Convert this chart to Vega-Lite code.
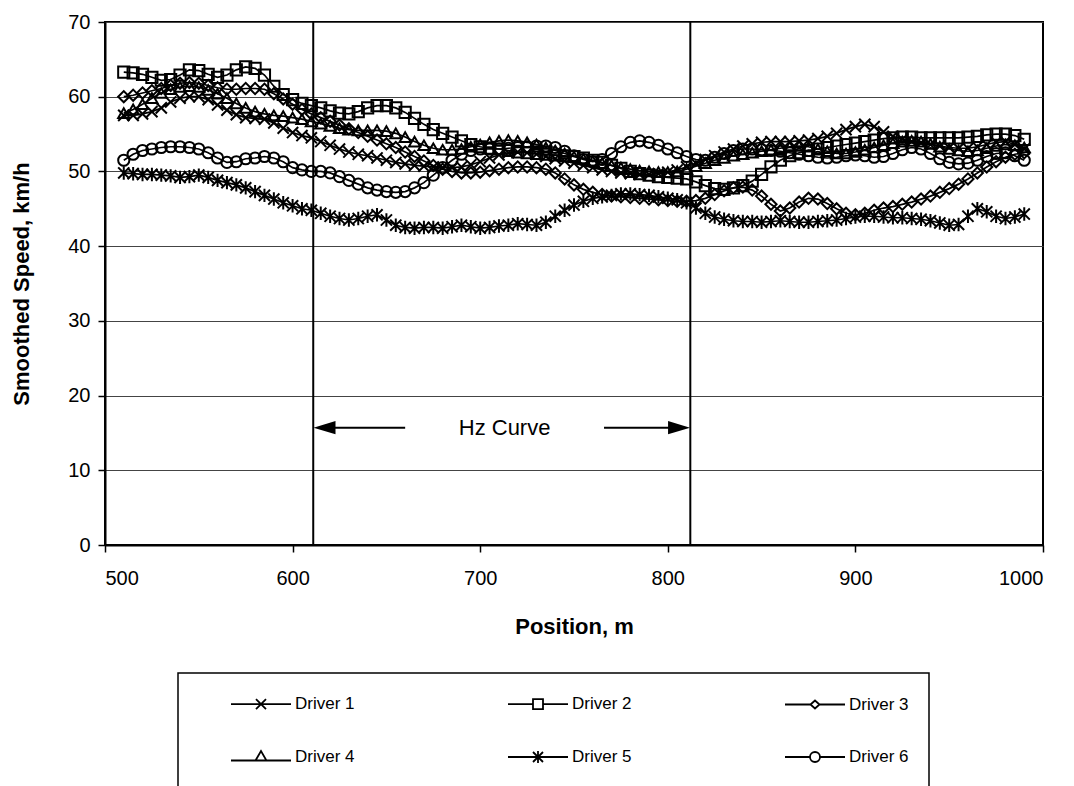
{
"$schema":"https://vega.github.io/schema/vega-lite/v6.json",
"width":938,"height":523,"autosize":"none",
"padding":{"left":105,"top":22,"right":31,"bottom":241},
"background":"white",
"datasets":{
"speeds":[
{"pos":510,"Driver 1":57.5,"Driver 2":63.3,"Driver 3":60.0,"Driver 4":57.8,"Driver 5":49.8,"Driver 6":51.5},
{"pos":515,"Driver 1":57.5,"Driver 2":63.2,"Driver 3":60.2,"Driver 4":58.3,"Driver 5":49.7,"Driver 6":52.3},
{"pos":520,"Driver 1":57.7,"Driver 2":63.0,"Driver 3":60.5,"Driver 4":59.0,"Driver 5":49.6,"Driver 6":52.8},
{"pos":525,"Driver 1":58.0,"Driver 2":62.6,"Driver 3":60.8,"Driver 4":59.8,"Driver 5":49.6,"Driver 6":53.0},
{"pos":530,"Driver 1":58.5,"Driver 2":62.2,"Driver 3":61.1,"Driver 4":60.5,"Driver 5":49.5,"Driver 6":53.2},
{"pos":535,"Driver 1":59.3,"Driver 2":62.3,"Driver 3":61.5,"Driver 4":61.0,"Driver 5":49.4,"Driver 6":53.3},
{"pos":540,"Driver 1":59.8,"Driver 2":62.9,"Driver 3":61.8,"Driver 4":61.3,"Driver 5":49.2,"Driver 6":53.3},
{"pos":545,"Driver 1":60.0,"Driver 2":63.6,"Driver 3":61.9,"Driver 4":61.4,"Driver 5":49.3,"Driver 6":53.2},
{"pos":550,"Driver 1":60.0,"Driver 2":63.5,"Driver 3":61.8,"Driver 4":61.3,"Driver 5":49.5,"Driver 6":53.0},
{"pos":555,"Driver 1":59.6,"Driver 2":63.0,"Driver 3":61.5,"Driver 4":60.9,"Driver 5":49.2,"Driver 6":52.5},
{"pos":560,"Driver 1":58.9,"Driver 2":62.6,"Driver 3":61.2,"Driver 4":60.4,"Driver 5":48.8,"Driver 6":51.8},
{"pos":565,"Driver 1":58.2,"Driver 2":62.9,"Driver 3":61.0,"Driver 4":59.8,"Driver 5":48.5,"Driver 6":51.2},
{"pos":570,"Driver 1":57.6,"Driver 2":63.6,"Driver 3":61.0,"Driver 4":59.1,"Driver 5":48.2,"Driver 6":51.3},
{"pos":575,"Driver 1":57.2,"Driver 2":64.0,"Driver 3":61.1,"Driver 4":58.5,"Driver 5":47.8,"Driver 6":51.7},
{"pos":580,"Driver 1":57.1,"Driver 2":63.8,"Driver 3":61.1,"Driver 4":58.0,"Driver 5":47.3,"Driver 6":51.8},
{"pos":585,"Driver 1":57.0,"Driver 2":62.9,"Driver 3":61.0,"Driver 4":57.7,"Driver 5":46.8,"Driver 6":52.0},
{"pos":590,"Driver 1":56.5,"Driver 2":61.4,"Driver 3":60.4,"Driver 4":57.5,"Driver 5":46.3,"Driver 6":51.8},
{"pos":595,"Driver 1":55.8,"Driver 2":60.3,"Driver 3":59.7,"Driver 4":57.4,"Driver 5":45.8,"Driver 6":51.3},
{"pos":600,"Driver 1":55.2,"Driver 2":59.6,"Driver 3":59.0,"Driver 4":57.2,"Driver 5":45.4,"Driver 6":50.5},
{"pos":605,"Driver 1":54.8,"Driver 2":59.1,"Driver 3":58.3,"Driver 4":57.0,"Driver 5":45.0,"Driver 6":50.2},
{"pos":610,"Driver 1":54.5,"Driver 2":58.8,"Driver 3":57.7,"Driver 4":56.7,"Driver 5":44.8,"Driver 6":50.0},
{"pos":615,"Driver 1":54.0,"Driver 2":58.5,"Driver 3":57.2,"Driver 4":56.4,"Driver 5":44.4,"Driver 6":50.0},
{"pos":620,"Driver 1":53.5,"Driver 2":58.1,"Driver 3":56.7,"Driver 4":56.1,"Driver 5":44.0,"Driver 6":49.8},
{"pos":625,"Driver 1":53.0,"Driver 2":57.8,"Driver 3":56.2,"Driver 4":55.8,"Driver 5":43.7,"Driver 6":49.3},
{"pos":630,"Driver 1":52.6,"Driver 2":57.7,"Driver 3":55.7,"Driver 4":55.6,"Driver 5":43.5,"Driver 6":48.8},
{"pos":635,"Driver 1":52.3,"Driver 2":58.0,"Driver 3":55.2,"Driver 4":55.5,"Driver 5":43.7,"Driver 6":48.3},
{"pos":640,"Driver 1":52.1,"Driver 2":58.5,"Driver 3":54.7,"Driver 4":55.5,"Driver 5":44.0,"Driver 6":47.8},
{"pos":645,"Driver 1":51.8,"Driver 2":58.8,"Driver 3":54.2,"Driver 4":55.5,"Driver 5":44.2,"Driver 6":47.5},
{"pos":650,"Driver 1":51.5,"Driver 2":58.8,"Driver 3":53.7,"Driver 4":55.4,"Driver 5":43.5,"Driver 6":47.3},
{"pos":655,"Driver 1":51.2,"Driver 2":58.5,"Driver 3":53.2,"Driver 4":55.1,"Driver 5":42.8,"Driver 6":47.2},
{"pos":660,"Driver 1":51.0,"Driver 2":57.9,"Driver 3":52.6,"Driver 4":54.6,"Driver 5":42.5,"Driver 6":47.3},
{"pos":665,"Driver 1":50.8,"Driver 2":57.1,"Driver 3":52.0,"Driver 4":54.0,"Driver 5":42.4,"Driver 6":47.8},
{"pos":670,"Driver 1":50.7,"Driver 2":56.3,"Driver 3":51.4,"Driver 4":53.5,"Driver 5":42.5,"Driver 6":48.5},
{"pos":675,"Driver 1":50.6,"Driver 2":55.6,"Driver 3":50.8,"Driver 4":53.1,"Driver 5":42.5,"Driver 6":49.5},
{"pos":680,"Driver 1":50.5,"Driver 2":55.1,"Driver 3":50.3,"Driver 4":52.9,"Driver 5":42.4,"Driver 6":50.5},
{"pos":685,"Driver 1":50.5,"Driver 2":54.6,"Driver 3":50.0,"Driver 4":52.9,"Driver 5":42.6,"Driver 6":51.5},
{"pos":690,"Driver 1":50.6,"Driver 2":54.1,"Driver 3":49.8,"Driver 4":53.0,"Driver 5":42.8,"Driver 6":52.3},
{"pos":695,"Driver 1":50.9,"Driver 2":53.6,"Driver 3":49.8,"Driver 4":53.3,"Driver 5":42.6,"Driver 6":52.8},
{"pos":700,"Driver 1":51.3,"Driver 2":53.3,"Driver 3":49.9,"Driver 4":53.6,"Driver 5":42.4,"Driver 6":53.0},
{"pos":705,"Driver 1":51.8,"Driver 2":53.1,"Driver 3":50.1,"Driver 4":53.9,"Driver 5":42.5,"Driver 6":53.0},
{"pos":710,"Driver 1":52.2,"Driver 2":53.0,"Driver 3":50.3,"Driver 4":54.1,"Driver 5":42.7,"Driver 6":53.0},
{"pos":715,"Driver 1":52.5,"Driver 2":52.8,"Driver 3":50.5,"Driver 4":54.2,"Driver 5":42.8,"Driver 6":53.1},
{"pos":720,"Driver 1":52.6,"Driver 2":52.6,"Driver 3":50.6,"Driver 4":54.1,"Driver 5":43.0,"Driver 6":53.2},
{"pos":725,"Driver 1":52.5,"Driver 2":52.5,"Driver 3":50.6,"Driver 4":53.9,"Driver 5":42.9,"Driver 6":53.3},
{"pos":730,"Driver 1":52.3,"Driver 2":52.4,"Driver 3":50.5,"Driver 4":53.6,"Driver 5":42.8,"Driver 6":53.4},
{"pos":735,"Driver 1":52.0,"Driver 2":52.3,"Driver 3":50.3,"Driver 4":53.2,"Driver 5":43.2,"Driver 6":53.4},
{"pos":740,"Driver 1":51.7,"Driver 2":52.2,"Driver 3":49.8,"Driver 4":52.8,"Driver 5":44.0,"Driver 6":53.2},
{"pos":745,"Driver 1":51.4,"Driver 2":52.1,"Driver 3":49.0,"Driver 4":52.4,"Driver 5":44.8,"Driver 6":52.7},
{"pos":750,"Driver 1":51.1,"Driver 2":52.0,"Driver 3":48.2,"Driver 4":52.0,"Driver 5":45.5,"Driver 6":52.1},
{"pos":755,"Driver 1":50.8,"Driver 2":51.8,"Driver 3":47.6,"Driver 4":51.7,"Driver 5":46.0,"Driver 6":51.6},
{"pos":760,"Driver 1":50.5,"Driver 2":51.5,"Driver 3":47.2,"Driver 4":51.4,"Driver 5":46.4,"Driver 6":51.3},
{"pos":765,"Driver 1":50.2,"Driver 2":51.2,"Driver 3":46.9,"Driver 4":51.1,"Driver 5":46.6,"Driver 6":51.6},
{"pos":770,"Driver 1":50.0,"Driver 2":50.8,"Driver 3":46.7,"Driver 4":50.8,"Driver 5":46.8,"Driver 6":52.4},
{"pos":775,"Driver 1":49.8,"Driver 2":50.4,"Driver 3":46.6,"Driver 4":50.5,"Driver 5":47.0,"Driver 6":53.3},
{"pos":780,"Driver 1":49.7,"Driver 2":50.0,"Driver 3":46.5,"Driver 4":50.3,"Driver 5":47.0,"Driver 6":53.9},
{"pos":785,"Driver 1":49.6,"Driver 2":49.7,"Driver 3":46.4,"Driver 4":50.1,"Driver 5":46.9,"Driver 6":54.1},
{"pos":790,"Driver 1":49.6,"Driver 2":49.5,"Driver 3":46.3,"Driver 4":50.0,"Driver 5":46.8,"Driver 6":53.9},
{"pos":795,"Driver 1":49.7,"Driver 2":49.3,"Driver 3":46.2,"Driver 4":49.9,"Driver 5":46.6,"Driver 6":53.5},
{"pos":800,"Driver 1":49.9,"Driver 2":49.2,"Driver 3":46.1,"Driver 4":49.9,"Driver 5":46.4,"Driver 6":53.0},
{"pos":805,"Driver 1":50.2,"Driver 2":49.1,"Driver 3":46.0,"Driver 4":50.0,"Driver 5":46.2,"Driver 6":52.5},
{"pos":810,"Driver 1":50.6,"Driver 2":49.0,"Driver 3":46.0,"Driver 4":50.3,"Driver 5":45.8,"Driver 6":52.0},
{"pos":815,"Driver 1":51.1,"Driver 2":48.6,"Driver 3":46.1,"Driver 4":50.7,"Driver 5":45.1,"Driver 6":51.6},
{"pos":820,"Driver 1":51.6,"Driver 2":48.1,"Driver 3":46.4,"Driver 4":51.1,"Driver 5":44.4,"Driver 6":51.5},
{"pos":825,"Driver 1":52.1,"Driver 2":47.7,"Driver 3":46.9,"Driver 4":51.5,"Driver 5":43.9,"Driver 6":51.9},
{"pos":830,"Driver 1":52.6,"Driver 2":47.6,"Driver 3":47.4,"Driver 4":51.8,"Driver 5":43.6,"Driver 6":52.4},
{"pos":835,"Driver 1":53.0,"Driver 2":47.8,"Driver 3":47.8,"Driver 4":52.1,"Driver 5":43.4,"Driver 6":52.8},
{"pos":840,"Driver 1":53.4,"Driver 2":48.1,"Driver 3":47.9,"Driver 4":52.3,"Driver 5":43.3,"Driver 6":53.0},
{"pos":845,"Driver 1":53.7,"Driver 2":48.7,"Driver 3":47.5,"Driver 4":52.5,"Driver 5":43.3,"Driver 6":53.0},
{"pos":850,"Driver 1":53.9,"Driver 2":49.6,"Driver 3":46.7,"Driver 4":52.7,"Driver 5":43.2,"Driver 6":52.9},
{"pos":855,"Driver 1":54.0,"Driver 2":50.6,"Driver 3":45.6,"Driver 4":52.9,"Driver 5":43.3,"Driver 6":52.8},
{"pos":860,"Driver 1":54.0,"Driver 2":51.5,"Driver 3":44.7,"Driver 4":53.1,"Driver 5":43.4,"Driver 6":52.7},
{"pos":865,"Driver 1":54.0,"Driver 2":52.1,"Driver 3":45.1,"Driver 4":53.3,"Driver 5":43.3,"Driver 6":52.5},
{"pos":870,"Driver 1":54.1,"Driver 2":52.5,"Driver 3":45.9,"Driver 4":53.4,"Driver 5":43.2,"Driver 6":52.3},
{"pos":875,"Driver 1":54.2,"Driver 2":52.8,"Driver 3":46.4,"Driver 4":53.3,"Driver 5":43.2,"Driver 6":52.1},
{"pos":880,"Driver 1":54.4,"Driver 2":53.0,"Driver 3":46.3,"Driver 4":53.0,"Driver 5":43.3,"Driver 6":51.9},
{"pos":885,"Driver 1":54.7,"Driver 2":53.2,"Driver 3":45.7,"Driver 4":52.7,"Driver 5":43.4,"Driver 6":51.8},
{"pos":890,"Driver 1":55.1,"Driver 2":53.4,"Driver 3":45.0,"Driver 4":52.4,"Driver 5":43.5,"Driver 6":51.9},
{"pos":895,"Driver 1":55.6,"Driver 2":53.6,"Driver 3":44.4,"Driver 4":52.4,"Driver 5":43.7,"Driver 6":52.1},
{"pos":900,"Driver 1":56.0,"Driver 2":53.8,"Driver 3":44.2,"Driver 4":52.6,"Driver 5":43.9,"Driver 6":52.2},
{"pos":905,"Driver 1":56.3,"Driver 2":54.0,"Driver 3":44.4,"Driver 4":52.9,"Driver 5":44.0,"Driver 6":52.1},
{"pos":910,"Driver 1":56.0,"Driver 2":54.2,"Driver 3":44.8,"Driver 4":53.2,"Driver 5":44.0,"Driver 6":51.9},
{"pos":915,"Driver 1":55.3,"Driver 2":54.4,"Driver 3":45.1,"Driver 4":53.5,"Driver 5":43.9,"Driver 6":52.0},
{"pos":920,"Driver 1":54.7,"Driver 2":54.5,"Driver 3":45.3,"Driver 4":53.8,"Driver 5":43.8,"Driver 6":52.4},
{"pos":925,"Driver 1":54.3,"Driver 2":54.6,"Driver 3":45.6,"Driver 4":54.0,"Driver 5":43.8,"Driver 6":52.9},
{"pos":930,"Driver 1":54.0,"Driver 2":54.6,"Driver 3":45.9,"Driver 4":54.1,"Driver 5":43.7,"Driver 6":53.2},
{"pos":935,"Driver 1":53.8,"Driver 2":54.5,"Driver 3":46.3,"Driver 4":54.0,"Driver 5":43.6,"Driver 6":53.0},
{"pos":940,"Driver 1":53.6,"Driver 2":54.5,"Driver 3":46.7,"Driver 4":53.7,"Driver 5":43.4,"Driver 6":52.4},
{"pos":945,"Driver 1":53.4,"Driver 2":54.5,"Driver 3":47.2,"Driver 4":53.3,"Driver 5":43.1,"Driver 6":51.7},
{"pos":950,"Driver 1":53.2,"Driver 2":54.5,"Driver 3":47.7,"Driver 4":53.0,"Driver 5":42.8,"Driver 6":51.2},
{"pos":955,"Driver 1":53.1,"Driver 2":54.5,"Driver 3":48.3,"Driver 4":52.8,"Driver 5":42.9,"Driver 6":51.0},
{"pos":960,"Driver 1":53.1,"Driver 2":54.6,"Driver 3":49.0,"Driver 4":52.7,"Driver 5":44.0,"Driver 6":51.1},
{"pos":965,"Driver 1":53.3,"Driver 2":54.7,"Driver 3":49.8,"Driver 4":52.8,"Driver 5":45.0,"Driver 6":51.5},
{"pos":970,"Driver 1":53.6,"Driver 2":54.9,"Driver 3":50.6,"Driver 4":53.1,"Driver 5":44.6,"Driver 6":52.0},
{"pos":975,"Driver 1":53.9,"Driver 2":55.0,"Driver 3":51.3,"Driver 4":53.4,"Driver 5":44.0,"Driver 6":52.4},
{"pos":980,"Driver 1":54.0,"Driver 2":55.0,"Driver 3":51.9,"Driver 4":53.6,"Driver 5":43.7,"Driver 6":52.5},
{"pos":985,"Driver 1":53.6,"Driver 2":54.8,"Driver 3":52.3,"Driver 4":53.5,"Driver 5":43.9,"Driver 6":52.1},
{"pos":990,"Driver 1":53.0,"Driver 2":54.3,"Driver 3":52.5,"Driver 4":53.2,"Driver 5":44.3,"Driver 6":51.5}
],
"curve":[{"pos":611},{"pos":812}],
"arrows":[{"pos":617,"pos2":660,"speed":15.7},{"pos":766,"pos2":806,"speed":15.7}],
"headLeft":[{"pos":617,"speed":15.7}],
"headRight":[{"pos":806,"speed":15.7}],
"label":[{"pos":713,"speed":15.7,"text":"Hz Curve"}]
},
"layer":[
{"data":{"name":"speeds"},"transform":[{"fold":["Driver 1","Driver 2","Driver 3","Driver 4","Driver 5","Driver 6"],"as":["driver","speed"]}],
 "mark":{"type":"line","color":"black","strokeWidth":1.7},
 "encoding":{
  "x":{"field":"pos","type":"quantitative","scale":{"domain":[500,1000],"nice":false},"title":"Position, m","axis":{"values":[500,600,700,800,900,1000],"format":"d","grid":false}},
  "y":{"field":"speed","type":"quantitative","scale":{"domain":[0,70],"nice":false},"title":"Smoothed Speed, km/h","axis":{"values":[0,10,20,30,40,50,60,70],"format":"d","grid":true}},
  "detail":{"field":"driver"}}},
{"data":{"name":"curve"},"mark":{"type":"rule","color":"black","strokeWidth":2},
 "encoding":{"x":{"field":"pos","type":"quantitative","title":"Position, m"}}},
{"data":{"name":"speeds"},"transform":[{"fold":["Driver 1","Driver 2","Driver 3","Driver 4","Driver 5","Driver 6"],"as":["driver","speed"]}],
 "mark":{"type":"point","color":"black","filled":false,"size":125,"strokeWidth":2,"opacity":1},
 "encoding":{
  "x":{"field":"pos","type":"quantitative","title":"Position, m"},
  "y":{"field":"speed","type":"quantitative","title":"Smoothed Speed, km/h"},
  "shape":{"field":"driver","type":"nominal","legend":null,"scale":{"domain":["Driver 1","Driver 2","Driver 3","Driver 4","Driver 5","Driver 6"],"range":["M-1,-1L1,1M-1,1L1,-1","square","diamond","triangle-up","M-1,-1L1,1M-1,1L1,-1M0,-1.2L0,1.2","circle"]}}}},
{"data":{"name":"speeds"},"transform":[{"fold":["Driver 1","Driver 2","Driver 3","Driver 4","Driver 5","Driver 6"],"as":["driver","speed"]}],
 "mark":{"type":"point","color":"black","filled":false,"opacity":0,"strokeWidth":1.8},
 "encoding":{
  "x":{"field":"pos","type":"quantitative","title":"Position, m"},
  "y":{"field":"speed","type":"quantitative","title":"Smoothed Speed, km/h"},
  "shape":{"field":"driver","type":"nominal",
   "scale":{"domain":["Driver 1","Driver 2","Driver 3","Driver 4","Driver 5","Driver 6"],"range":[
    "M2.2,0L8.2,0M4.7,-0.5L5.7,0.5M4.7,0.5L5.7,-0.5",
    "M2.2,0L4.7,0M5.7,0L8.2,0M4.7,-0.5L5.7,-0.5L5.7,0.5L4.7,0.5Z",
    "M2.2,0L4.75,0M5.65,0L8.2,0M4.75,0L5.2,-0.4L5.65,0L5.2,0.4Z",
    "M2.2,0.35L8.2,0.35M4.65,0.35L5.2,-0.6L5.75,0.35Z",
    "M2.2,0L8.2,0M4.7,-0.5L5.7,0.5M4.7,0.5L5.7,-0.5M5.2,-0.6L5.2,0.6",
    "M2.2,0L4.7,0M5.7,0L8.2,0M4.7,0A0.5,0.5,0,1,1,5.7,0A0.5,0.5,0,1,1,4.7,0Z"]},
   "legend":{"orient":"none","legendX":73,"legendY":651,"direction":"horizontal","columns":3,"title":null,
    "padding":20,"strokeColor":"black","fillColor":"white","symbolSize":400,"symbolStrokeWidth":1.8,"symbolStrokeColor":"black","symbolFillColor":"transparent","symbolOpacity":1,
    "labelFont":"Liberation Sans","labelFontSize":17,"labelColor":"black","labelOffset":75,"columnPadding":120,"rowPadding":33,"gridAlign":"each",
    "labelExpr":"(datum.label == 'Driver 3' || datum.label == 'Driver 6') ? datum.label + '\u2003\u2003' : datum.label"}}}},
{"data":{"name":"arrows"},"mark":{"type":"rule","color":"black","strokeWidth":2},
 "encoding":{"x":{"field":"pos","type":"quantitative","title":"Position, m"},"x2":{"field":"pos2"},"y":{"field":"speed","type":"quantitative","title":"Smoothed Speed, km/h"}}},
{"data":{"name":"headLeft"},"mark":{"type":"point","shape":"M-1,0L1,-0.6L1,0.6Z","filled":true,"color":"black","size":484,"opacity":1},
 "encoding":{"x":{"field":"pos","type":"quantitative","title":"Position, m"},"y":{"field":"speed","type":"quantitative","title":"Smoothed Speed, km/h"}}},
{"data":{"name":"headRight"},"mark":{"type":"point","shape":"M1,0L-1,-0.6L-1,0.6Z","filled":true,"color":"black","size":484,"opacity":1},
 "encoding":{"x":{"field":"pos","type":"quantitative","title":"Position, m"},"y":{"field":"speed","type":"quantitative","title":"Smoothed Speed, km/h"}}},
{"data":{"name":"label"},"mark":{"type":"text","font":"Liberation Sans","fontSize":22,"color":"black","align":"center","baseline":"middle"},
 "encoding":{"x":{"field":"pos","type":"quantitative","title":"Position, m"},"y":{"field":"speed","type":"quantitative","title":"Smoothed Speed, km/h"},"text":{"field":"text"}}}
],
"resolve":{"scale":{"shape":"independent"}},
"config":{
 "view":{"stroke":"black","strokeWidth":2},
 "axis":{"labelFont":"Liberation Sans","labelFontSize":20,"labelColor":"black","titleFont":"Liberation Sans","titleFontSize":22,"titleFontWeight":"bold","titleColor":"black","domainColor":"black","domainWidth":2,"tickColor":"black","tickSize":7,"tickWidth":1.5,"gridColor":"#444444","gridWidth":1,"gridOpacity":1},
 "axisX":{"labelPadding":16,"titlePadding":28},
 "axisY":{"labelPadding":8,"titlePadding":34},
 "legend":{"strokeWidth":1.5}
}
}
